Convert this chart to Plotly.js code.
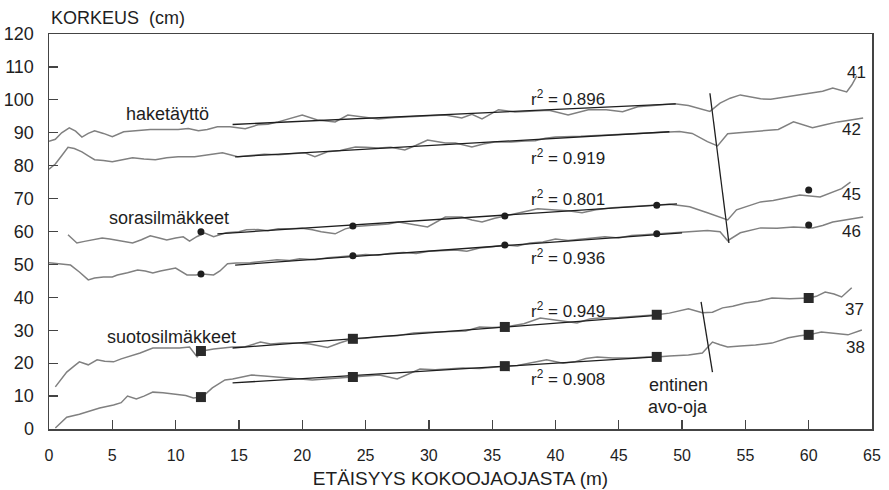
<!DOCTYPE html>
<html>
<head>
<meta charset="utf-8">
<script src="https://cdn.plot.ly/plotly-3.0.1.min.js"></script>
<style>html,body{margin:0;padding:0;background:#fff;}#chart{width:889px;height:490px;}</style>
</head>
<body>
<div id="chart"></div>
<script>
// ---- data ----
const x41 = [0,0.5,1.0,1.6,2.1,2.6,3.1,3.6,4.3,5.0,5.9,7.0,8.0,9.0,10.2,11.0,11.8,12.5,13.3,14.3,15.5,16.5,17.3,18.1,19.0,20.0,21.2,22.6,23.6,24.4,25.2,26.0,27.3,28.7,30.0,31.3,32.6,33.4,34.2,35.5,36.8,38.0,39.5,41.0,42.6,44.0,45.3,46.5,48.0,49.4,50.5,51.3,52.2,53.0,53.8,54.6,55.4,56.2,57.0,57.7,58.5,59.5,60.3,61.1,61.9,62.5,63.0,63.4,63.8];
const y41 = [87.4,88.0,90.0,91.5,90.5,88.7,89.8,90.6,89.8,88.8,90.3,90.6,91.0,91.0,91.0,91.3,90.6,91.0,91.8,91.8,91.2,92.4,92.6,93.3,94.2,95.4,93.9,93.3,95.4,95.0,94.8,94.2,94.6,94.8,95.0,95.4,94.5,95.6,94.2,97.0,96.3,96.6,96.8,95.4,97.0,97.0,96.4,97.9,98.3,98.8,98.3,97.5,96.5,99.0,100.5,101.5,100.8,100.3,100.2,100.6,101.0,101.5,102.0,102.6,103.6,103.0,102.4,104.5,107.3];

const x42 = [0,0.5,1.0,1.5,2.0,2.6,3.1,3.6,4.3,5.0,5.8,6.6,7.5,8.4,9.3,10.2,11.5,12.5,13.7,14.9,16.0,17.0,18.1,19.2,20.2,21.0,22.0,23.0,24.2,25.0,26.0,27.0,28.1,29.0,29.9,31.3,32.1,33.4,34.3,35.2,36.5,37.6,38.4,39.2,40.0,42.0,43.9,46.0,48.4,49.8,50.8,52.0,52.8,53.6,54.5,55.6,56.6,57.6,58.8,59.5,60.3,61.3,62.3,63.2,64.3];
const y42 = [78.9,80.5,83.0,85.6,85.2,84.2,83.0,81.8,81.6,81.2,81.8,82.4,82.0,81.8,82.4,82.7,82.7,83.2,83.9,82.7,83.2,83.5,83.3,83.6,83.9,82.7,84.2,84.6,85.7,85.6,85.4,85.6,84.8,86.2,87.8,86.9,86.9,85.7,86.6,87.2,87.2,87.5,87.6,88.3,88.7,88.9,89.3,89.6,90.3,90.4,89.8,87.3,86.0,89.7,90.0,90.3,90.7,91.0,93.3,92.5,91.5,92.4,93.3,93.8,94.5];

const x45 = [1.5,2.2,2.8,3.5,4.2,4.8,5.7,6.6,7.3,8.0,8.7,9.3,10.0,10.6,11.1,11.7,12.3,13.0,14.0,15.0,15.6,16.5,17.3,18.1,19.0,20.0,20.8,21.5,22.6,23.4,24.2,25.0,26.0,26.8,27.6,28.5,29.9,31.3,32.6,33.4,34.2,35.2,36.0,37.0,38.6,40.0,41.0,42.1,43.2,44.5,46.0,47.2,48.0,49.0,50.0,50.6,52.0,53.6,54.3,55.2,56.2,57.2,58.3,59.3,60.9,61.9,62.6,63.3];
const y45 = [59.0,56.5,57.0,57.4,58.0,57.7,57.2,56.5,57.5,58.7,58.0,57.4,58.0,58.4,57.1,58.5,59.5,58.4,59.6,59.9,60.5,60.6,60.2,60.8,60.8,61.0,60.5,59.9,59.3,60.8,61.5,61.8,62.0,62.3,62.9,62.4,61.4,64.4,64.4,63.5,62.9,64.0,64.7,65.6,66.9,66.5,66.3,65.7,66.6,67.2,67.5,67.8,68.0,68.3,67.8,67.5,65.7,63.5,66.6,67.8,69.0,69.4,70.2,71.1,70.5,72.0,73.0,75.0];

const x46 = [0,0.6,1.0,1.7,2.4,3.1,3.6,4.3,5.0,5.4,6.2,7.0,7.6,8.2,8.8,9.5,10.0,10.9,11.6,12.1,13.0,13.5,14.1,14.8,15.9,17.0,18.0,19.0,19.8,21.0,22.0,23.0,24.1,25.0,26.0,27.0,28.0,29.0,30.0,31.0,32.1,33.0,34.0,35.0,36.0,37.0,38.0,39.0,40.0,41.0,42.0,43.0,43.9,45.0,46.0,47.0,48.0,49.0,50.6,52.0,53.0,53.6,54.6,55.4,56.2,57.5,58.8,60.3,61.1,61.9,63.0,64.3];
const y46 = [50.5,50.3,50.2,49.8,47.7,45.3,45.9,46.2,46.2,46.8,47.5,48.3,48.0,47.4,48.0,48.6,48.9,46.8,46.8,47.1,46.8,48.0,50.2,50.4,50.5,51.0,51.4,51.2,51.7,51.4,52.0,52.3,52.6,53.0,52.8,53.4,53.6,53.3,54.0,54.2,54.4,54.0,55.0,55.4,55.9,55.6,56.5,56.8,57.7,57.3,57.6,58.0,58.4,58.0,58.8,59.0,59.3,59.5,59.9,60.3,59.9,57.2,59.6,60.3,61.1,61.0,61.4,61.1,61.8,62.9,63.5,64.4];

const x37 = [0.5,1.0,1.4,2.0,2.4,3.1,3.8,4.4,5.1,5.7,6.2,7.2,8.2,9.0,10.3,11.1,11.7,12.1,13.0,14.5,15.5,16.7,17.5,18.5,19.7,20.6,21.5,22.0,23.0,24.0,25.0,26.0,27.5,28.8,30.0,31.5,32.9,34.0,35.0,36.0,37.5,38.8,40.0,41.2,41.7,42.7,43.5,45.0,46.5,48.0,49.0,50.5,51.6,52.4,53.2,54.0,55.0,56.0,57.1,58.5,60.0,60.6,61.3,62.0,62.6,63.4];
const y37 = [12.8,15.5,17.3,19.2,20.4,19.5,21.0,20.6,20.4,21.3,21.9,23.1,24.6,24.6,24.6,24.9,21.9,23.7,24.3,24.9,25.0,26.4,25.8,26.1,26.1,25.8,25.2,24.8,26.2,27.4,27.6,28.0,28.3,29.2,29.4,29.6,29.8,31.0,30.8,31.0,32.0,33.7,33.0,32.5,32.2,33.4,33.7,33.9,34.2,34.7,35.2,36.5,35.3,35.5,36.8,37.3,38.3,38.8,39.8,39.6,39.8,40.3,41.6,41.0,40.1,42.9];

const x38 = [0.5,1.0,1.4,2.4,3.2,4.0,5.1,5.7,6.2,6.9,7.5,8.2,9.0,10.1,10.8,11.4,12.1,12.9,13.9,14.5,15.2,16.0,17.0,18.1,19.5,20.8,21.8,22.8,24.0,25.0,26.1,27.5,28.4,29.3,30.5,31.5,32.7,34.0,35.0,36.0,37.0,38.0,39.3,40.6,41.5,42.4,43.3,44.5,46.0,47.2,48.0,49.0,50.5,51.6,52.4,53.0,53.6,54.6,55.8,57.1,58.4,59.3,60.0,61.0,62.0,63.1,64.2];
const y38 = [0.3,2.0,3.6,4.5,5.5,6.4,7.3,8.0,10.0,9.1,10.0,11.2,11.0,10.6,10.2,9.4,9.7,12.5,14.9,15.2,15.8,16.4,16.1,15.8,15.3,14.9,15.2,15.5,15.8,16.0,16.4,15.2,16.8,18.2,18.0,18.3,18.5,18.4,18.8,19.1,19.3,20.0,21.0,20.0,20.4,21.4,21.9,21.6,21.6,21.9,21.9,22.2,22.5,23.1,26.4,25.6,24.9,25.2,25.5,26.1,27.7,28.3,28.6,29.5,29.0,28.6,30.1];

// regression lines (end points)
const regX41 = [14.5, 49.5], regY41 = [92.5, 98.8];
const regX42 = [14.7, 49.0], regY42 = [82.7, 90.3];
const regX45 = [13.3, 49.6], regY45 = [59.3, 68.4];
const regX46 = [14.7, 50.0], regY46 = [49.8, 59.6];
const regX37 = [14.5, 48.0], regY37 = [24.6, 34.5];
const regX38 = [14.5, 48.0], regY38 = [14.0, 21.9];

// measurement markers
const markX = [12, 24, 36, 48, 60];
const mark45 = [59.9, 61.7, 64.7, 68.0, 72.6];
const mark46 = [47.1, 52.6, 55.9, 59.3, 62.0];
const mark37 = [23.7, 27.4, 31.0, 34.7, 39.8];
const mark38 = [9.7, 15.8, 19.1, 21.9, 28.6];

// former open ditch (lines across the profiles)
const ditchTopX = [52.2, 53.7], ditchTopY = [102, 56.5];
const ditchBotX = [51.5, 52.4], ditchBotY = [38.6, 17.3];

// labels
const seriesNames = ["41", "42", "45", "46", "37", "38"];
const seriesLabelX = [63.8, 63.4, 63.4, 63.4, 63.6, 63.7];
const seriesLabelY = [108.2, 90.9, 71.1, 59.9, 36.2, 24.9];
const r2Values = ["0.896", "0.919", "0.801", "0.936", "0.949", "0.908"];
const r2LabelY = [100.6, 82.7, 70.2, 52.3, 36.2, 15.5];
const groupNames = ["haketäyttö", "sorasilmäkkeet", "suotosilmäkkeet"];
const groupLabelX = [9.36, 9.44, 9.64];
const groupLabelY = [95.7, 64.1, 28.0];
const ditchText = ["entinen", "avo-oja"];
const ditchTextY = [13.4, 6.7];
const xTickVals = [0,5,10,15,20,25,30,35,40,45,50,55,60,65];
const yTickVals = [0,10,20,30,40,50,60,70,80,90,100,110,120];

// ---- styling ----
const FONT = "Liberation Sans, Arial, Helvetica, sans-serif";
const INK = "#1e1e1e";
const GREY = "#808080";

const traces = [];
const lines = [[x41,y41],[x42,y42],[x45,y45],[x46,y46],[x37,y37],[x38,y38]];
lines.forEach((l, i) => traces.push({x:l[0], y:l[1], mode:"lines", name:seriesNames[i], line:{color:GREY, width:1.5}, hoverinfo:"skip"}));
const regs = [[regX41,regY41],[regX42,regY42],[regX45,regY45],[regX46,regY46],[regX37,regY37],[regX38,regY38]];
regs.forEach((r, i) => traces.push({x:r[0], y:r[1], mode:"lines", name:"r² "+seriesNames[i], line:{color:INK, width:1.3}}));
traces.push({x:ditchTopX, y:ditchTopY, mode:"lines", line:{color:INK, width:1.3}});
traces.push({x:ditchBotX, y:ditchBotY, mode:"lines", line:{color:INK, width:1.3}});
[mark45, mark46].forEach(m => traces.push({x:markX, y:m, mode:"markers", marker:{symbol:"circle", size:7, color:INK}}));
[mark37, mark38].forEach(m => traces.push({x:markX, y:m, mode:"markers", marker:{symbol:"square", size:10, color:"#2a2a2a"}}));

const ann = [];
seriesNames.forEach((s, i) => ann.push({x:seriesLabelX[i], y:seriesLabelY[i], xref:"x", yref:"y", text:s, showarrow:false, xanchor:"center", yanchor:"middle", font:{family:FONT, size:17, color:INK}}));
r2Values.forEach((v, i) => ann.push({x:41.0, y:r2LabelY[i], xref:"x", yref:"y", text:"r<sup>2</sup> = " + v, showarrow:false, xanchor:"center", yanchor:"middle", font:{family:FONT, size:17, color:INK}}));
groupNames.forEach((g, i) => ann.push({x:groupLabelX[i], y:groupLabelY[i], xref:"x", yref:"y", text:g, showarrow:false, xanchor:"center", yanchor:"middle", font:{family:FONT, size:18, color:INK}}));
ditchText.forEach((t, i) => ann.push({x:49.7, y:ditchTextY[i], xref:"x", yref:"y", text:t, showarrow:false, xanchor:"center", yanchor:"middle", font:{family:FONT, size:18, color:INK}}));
ann.push({x:0, y:1.04, xref:"paper", yref:"paper", text:"KORKEUS\u00a0\u00a0(cm)", showarrow:false, xanchor:"left", yanchor:"middle", font:{family:FONT, size:18, color:INK}});

const layout = {
  width: 889, height: 490,
  margin: {l:49, r:17, t:34, b:61},
  paper_bgcolor: "#fff", plot_bgcolor: "#fff",
  showlegend: false,
  font: {family: FONT, color: INK},
  xaxis: {
    range: [0, 65], tickvals: xTickVals, ticks: "inside", ticklen: 9, tickcolor: "#444", tickwidth: 1.3,
    showline: true, mirror: true, linecolor: "#444", linewidth: 1.5, showgrid: false, zeroline: false,
    tickfont: {family: FONT, size: 16, color: INK}, ticklabelstandoff: 11,
    title: {text: "ETÄISYYS KOKOOJAOJASTA (m)", font: {family: FONT, size: 19, color: INK}, standoff: 9}
  },
  yaxis: {
    range: [0, 120], tickvals: yTickVals, ticks: "inside", ticklen: 9, tickcolor: "#444", tickwidth: 1.3,
    showline: true, mirror: true, linecolor: "#444", linewidth: 1.5, showgrid: false, zeroline: false,
    tickfont: {family: FONT, size: 18, color: INK}, ticklabelstandoff: 10
  },
  annotations: ann
};

Plotly.newPlot("chart", traces, layout, {staticPlot: true, displayModeBar: false});
</script>
</body>
</html>
